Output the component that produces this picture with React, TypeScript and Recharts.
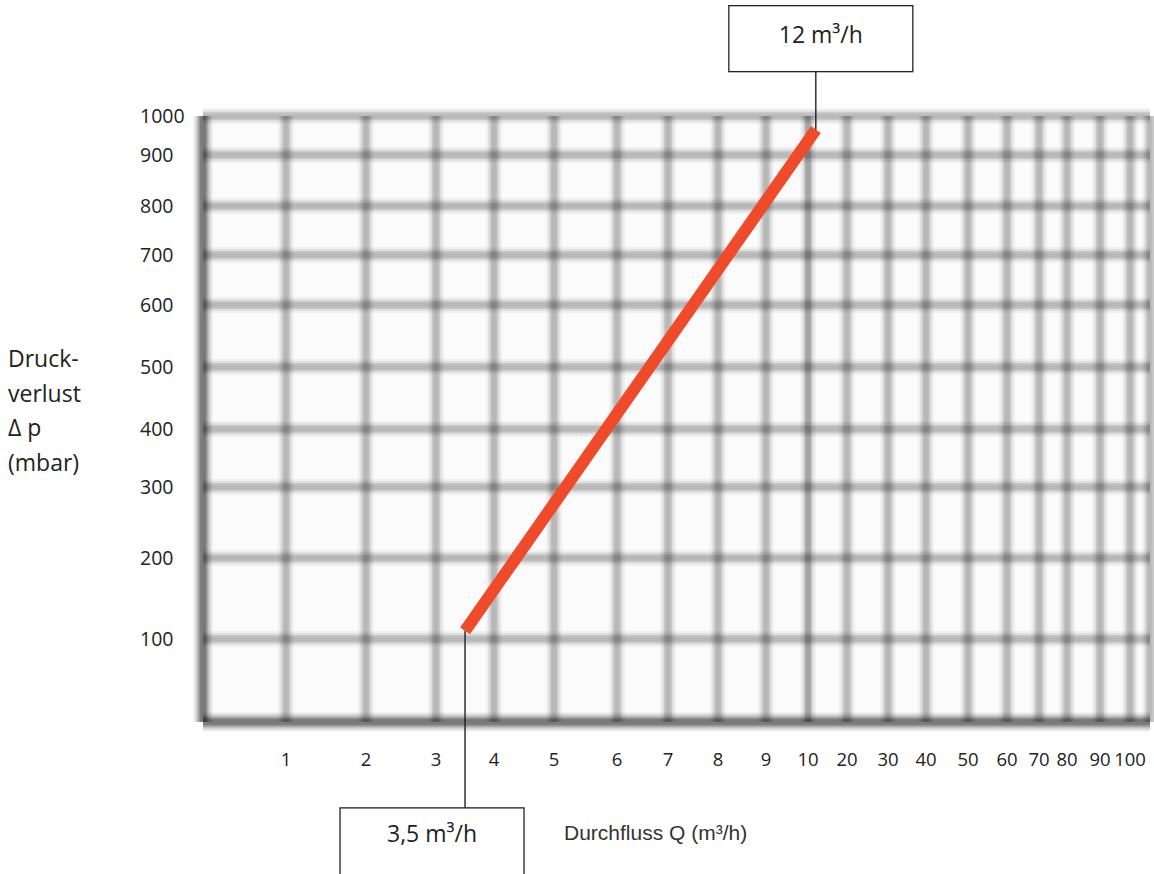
import React from 'react';
import { LineChart, Line, XAxis, YAxis, CartesianGrid, LabelList, Label, ReferenceLine } from 'recharts';

// ---------- data ----------
const X_TICKS = [1, 2, 3, 4, 5, 6, 7, 8, 9, 10, 20, 30, 40, 50, 60, 70, 80, 90, 100];
const Y_TICKS = [100, 200, 300, 400, 500, 600, 700, 800, 900, 1000];
const FLOW = [3.5, 12];
const PRESSURE = [110, 965];
const CALLOUT_TEXT = ['3,5 m³/h', '12 m³/h'];

// ---------- axis layout (the paper chart uses a hand-drawn, non-uniform scale) ----------
const X_KNOTS = [0, 1, 2, 3, 4, 5, 6, 7, 8, 9, 10, 20, 30, 40, 50, 60, 70, 80, 90, 100, 110];
const X_FRACS = [0, 0.0876, 0.1721, 0.2461, 0.3073, 0.3707, 0.4372, 0.491, 0.5438, 0.5945, 0.6389,
  0.68, 0.7233, 0.7635, 0.8078, 0.849, 0.8828, 0.9124, 0.9472, 0.9789, 1];
const Y_KNOTS = [0, 100, 200, 300, 400, 500, 600, 700, 800, 900, 1000];
const Y_FRACS = [0, 0.137, 0.2706, 0.3878, 0.4835, 0.5858, 0.6881, 0.7706, 0.8515, 0.9356, 1];

function piecewiseScale(knots: number[], fracs: number[]): any {
  let dom = [knots[0], knots[knots.length - 1]];
  let rng = [0, 1];
  const toFrac = (v: number) => {
    const n = knots.length;
    let i = 0;
    if (v >= knots[n - 1]) i = n - 2;
    else if (v > knots[0]) {
      while (i < n - 2 && v > knots[i + 1]) i++;
    }
    const t = (v - knots[i]) / (knots[i + 1] - knots[i]);
    return fracs[i] + t * (fracs[i + 1] - fracs[i]);
  };
  const fromFrac = (f: number) => {
    const n = fracs.length;
    let i = 0;
    if (f >= fracs[n - 1]) i = n - 2;
    else if (f > fracs[0]) {
      while (i < n - 2 && f > fracs[i + 1]) i++;
    }
    const t = (f - fracs[i]) / (fracs[i + 1] - fracs[i]);
    return knots[i] + t * (knots[i + 1] - knots[i]);
  };
  const s: any = (v: any) => rng[0] + toFrac(Number(v)) * (rng[1] - rng[0]);
  s.domain = (d?: number[]) => {
    if (d === undefined) return dom.slice();
    dom = d.slice();
    return s;
  };
  s.range = (r?: number[]) => {
    if (r === undefined) return rng.slice();
    rng = r.slice();
    return s;
  };
  s.invert = (p: number) => fromFrac((p - rng[0]) / (rng[1] - rng[0]));
  s.ticks = () => knots.slice();
  s.tickFormat = () => (v: any) => String(v);
  s.copy = () => piecewiseScale(knots, fracs).domain(dom).range(rng);
  return s;
}

const xScale = piecewiseScale(X_KNOTS, X_FRACS);
const yScale = piecewiseScale(Y_KNOTS, Y_FRACS);

const data = FLOW.map((q, i) => ({ q, dp: PRESSURE[i], label: CALLOUT_TEXT[i] }));

// ---------- styles ----------
const FONT = "'Open Sans', 'Noto Sans', sans-serif";
const TEXT = '#222222';
const RED = '#EF4A2A';
const GRID_LAYERS = [
  { w: 16, c: 'rgba(0,0,0,0.045)' },
  { w: 12, c: 'rgba(0,0,0,0.07)' },
  { w: 8, c: 'rgba(0,0,0,0.1)' },
  { w: 5, c: 'rgba(0,0,0,0.08)' },
];
const BORDER_LAYERS = [
  { w: 20, c: 'rgba(0,0,0,0.05)' },
  { w: 15, c: 'rgba(0,0,0,0.09)' },
  { w: 10, c: 'rgba(0,0,0,0.13)' },
  { w: 6, c: 'rgba(0,0,0,0.12)' },
];
const CALLOUTS = [
  { dir: 'down', lead: 177, boxDx: -125, boxW: 184, boxH: 80, textDx: -33, textBase: 34 },
  { dir: 'up', lead: 58, boxDx: -87, boxW: 184, boxH: 66, textDx: 5, textBase: 37 },
];

const XTick = (p: any) => (
  <text x={p.x} y={p.y + 44} textAnchor="middle" fontFamily={FONT} fontSize={18.5} fill={TEXT}>
    {p.payload.value}
  </text>
);

const YTick = (p: any) => (
  <text x={p.x - 63} y={p.y + 7} textAnchor="start" fontFamily={FONT} fontSize={19.5} fill={TEXT}>
    {p.payload.value}
  </text>
);

const renderCallout = (p: any) => {
  const idx = p.index ?? 0;
  const cfg = CALLOUTS[idx];
  const x = p.viewBox?.x ?? p.x;
  const y = p.viewBox?.y ?? p.y;
  if (!cfg || x == null || y == null) return null;
  const end = cfg.dir === 'down' ? y + cfg.lead : y - cfg.lead;
  const boxTop = cfg.dir === 'down' ? end : end - cfg.boxH;
  return (
    <g>
      <line x1={x} y1={y} x2={x} y2={end} stroke="#111" strokeWidth={1.3} />
      <rect x={x + cfg.boxDx} y={boxTop} width={cfg.boxW} height={cfg.boxH} fill="#fff" stroke="#222" strokeWidth={1.3} />
      <text x={x + cfg.textDx} y={boxTop + cfg.textBase} textAnchor="middle" fontFamily={FONT} fontSize={23} fill={TEXT}>
        {p.value}
      </text>
    </g>
  );
};

const renderYTitle = (p: any) => {
  const vb = p.viewBox || {};
  const left = (vb.x ?? 140) - 132;
  const mid = (vb.y ?? 116) + (vb.height ?? 606) / 2;
  const lines = ['Druck-', 'verlust', 'Δ p', '(mbar)'];
  return (
    <g>
      {lines.map((t, i) => (
        <text key={i} x={left} y={mid - 52 + i * 34.5} fontFamily={FONT} fontSize={23} fill={TEXT}>
          {t}
        </text>
      ))}
    </g>
  );
};

const renderXTitle = (p: any) => {
  const vb = p.viewBox || {};
  return (
    <text x={(vb.x ?? 203) + 361} y={(vb.y ?? 722) + 118} fontFamily="'Liberation Sans', Arial, sans-serif" fontSize={21} fill="#333">
      Durchfluss Q (m³/h)
    </text>
  );
};

export default function App() {
  return (
    <div style={{ position: 'absolute', left: 0, top: 0, background: '#fff' }}>
      <LineChart width={1154} height={874} data={data} margin={{ top: 116, right: 4, bottom: 112, left: 140 }}>
        <CartesianGrid fill="#fbfbfb" stroke="none" />
        {GRID_LAYERS.map((l, i) => (
          <CartesianGrid key={'g' + i} stroke={l.c} strokeWidth={l.w} />
        ))}
        {BORDER_LAYERS.map((l, i) => (
          <ReferenceLine key={'bx' + i} x={0} stroke={l.c} strokeWidth={l.w} zIndex={-50} />
        ))}
        {BORDER_LAYERS.map((l, i) => (
          <ReferenceLine key={'by' + i} y={0} stroke={l.c} strokeWidth={l.w} zIndex={-50} />
        ))}
        <ReferenceLine x={10} stroke="rgba(0,0,0,0.1)" strokeWidth={6} zIndex={-50} />
        <XAxis
          dataKey="q"
          type="number"
          domain={[0, 110]}
          scale={xScale}
          ticks={X_TICKS}
          interval={0}
          axisLine={false}
          tickLine={false}
          tickSize={0}
          tickMargin={0}
          height={40}
          tick={XTick}
        >
          <Label content={renderXTitle} />
        </XAxis>
        <YAxis
          type="number"
          domain={[0, 1000]}
          scale={yScale}
          ticks={Y_TICKS}
          interval={0}
          axisLine={false}
          tickLine={false}
          tickSize={0}
          tickMargin={0}
          width={63}
          tick={YTick}
        >
          <Label content={renderYTitle} />
        </YAxis>
        <Line
          dataKey="dp"
          stroke={RED}
          strokeWidth={12}
          dot={false}
          activeDot={false}
          isAnimationActive={false}
          zIndex={1000}
        >
          <LabelList dataKey="label" content={renderCallout} />
        </Line>
      </LineChart>
    </div>
  );
}
